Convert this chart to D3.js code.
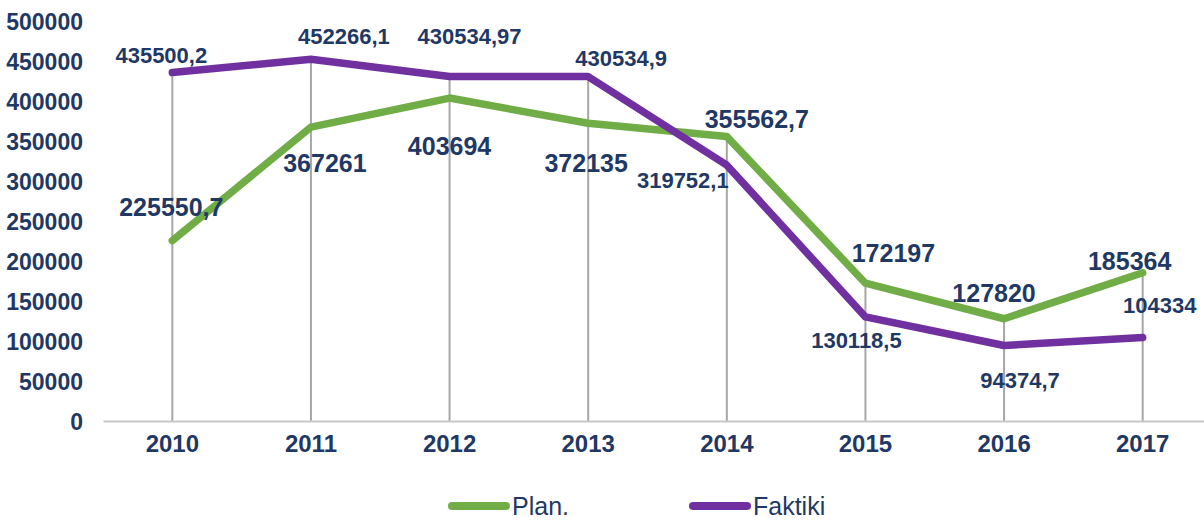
<html>
<head>
<style>
  body { margin: 0; background: #fff; font-family: "Liberation Sans", Arial, sans-serif; }
  svg { display: block; }
</style>
<script src="https://cdn.jsdelivr.net/npm/d3@7"></script>
</head>
<body>
<svg id="chart"></svg>
<script>
let years = ["2010", "2011", "2012", "2013", "2014", "2015", "2016", "2017"];
let planValues = [225550.7, 367261, 403694, 372135, 355562.7, 172197, 127820, 185364];
let faktikiValues = [435500.2, 452266.1, 430534.97, 430534.9, 319752.1, 130118.5, 94374.7, 104334];
let planLabels = ["225550,7", "367261", "403694", "372135", "355562,7", "172197", "127820", "185364"];
let faktikiLabels = ["435500,2", "452266,1", "430534,97", "430534,9", "319752,1", "130118,5", "94374,7", "104334"];
let yTicks = [0, 50000, 100000, 150000, 200000, 250000, 300000, 350000, 400000, 450000, 500000];

// label offsets (dx, dy from the point to the text baseline centre), placed by hand like the source
let planLabelOffsets = [[-1, -25], [14, 45], [0, 57], [-2, 49], [30, -9], [28, -21], [-10, -17], [-13, -3]];
let faktikiLabelOffsets = [[-11, -10], [33, -15], [20, -33], [33, -11], [-44, 23], [-9, 31], [16, 42], [17, -25]];

let width = 1204, height = 521;
let margin = {left: 103, right: -8, top: 21, bottom: 100};
let navy = "#1f3864";
let green = "#70ad47";
let purple = "#7030a0";

let svg = d3.select("#chart").attr("width", width).attr("height", height);

let x = d3.scaleBand()
  .domain(years)
  .range([margin.left, width - margin.right]);

let y = d3.scaleLinear()
  .domain([0, 500000])
  .range([height - margin.bottom, margin.top]);

let cx = d => x(d) + x.bandwidth() / 2;

// drop lines from the higher point of each year
svg.append("g").selectAll("line")
  .data(years)
  .enter().append("line")
  .attr("x1", d => cx(d))
  .attr("x2", d => cx(d))
  .attr("y1", (d, i) => y(Math.max(planValues[i], faktikiValues[i])))
  .attr("y2", y(0))
  .attr("stroke", "#a6a6a6")
  .attr("stroke-width", 2);

// x axis
let axisX = svg.append("g")
  .attr("transform", `translate(0,${y(0)})`)
  .call(d3.axisBottom(x).tickSize(0).tickPadding(14));
axisX.select(".domain").attr("stroke", "#c8c8c8").attr("stroke-width", 2);
axisX.selectAll("text")
  .attr("fill", navy)
  .attr("font-size", 24)
  .attr("font-weight", "bold")
  .attr("font-family", "Liberation Sans, Arial, sans-serif");

// y axis
let axisY = svg.append("g")
  .attr("transform", `translate(${margin.left - 20},0)`)
  .call(d3.axisLeft(y).tickValues(yTicks).tickSize(0).tickPadding(0).tickFormat(d3.format("d")));
axisY.select(".domain").remove();
axisY.selectAll("text")
  .attr("fill", navy)
  .attr("font-size", 23)
  .attr("font-weight", "bold")
  .attr("dy", "0.35em")
  .attr("font-family", "Liberation Sans, Arial, sans-serif");

let line = d3.line()
  .x((d, i) => cx(years[i]))
  .y(d => y(d));

svg.append("path")
  .datum(planValues)
  .attr("d", line)
  .attr("fill", "none")
  .attr("stroke", green)
  .attr("stroke-width", 7.5)
  .attr("stroke-linecap", "round")
  .attr("stroke-linejoin", "round");

svg.append("path")
  .datum(faktikiValues)
  .attr("d", line)
  .attr("fill", "none")
  .attr("stroke", purple)
  .attr("stroke-width", 7.5)
  .attr("stroke-linecap", "round")
  .attr("stroke-linejoin", "round");

function drawLabels(values, labels, offsets, size) {
  svg.append("g").selectAll("text")
    .data(values)
    .enter().append("text")
    .attr("x", (d, i) => cx(years[i]) + offsets[i][0])
    .attr("y", (d, i) => y(d) + offsets[i][1])
    .attr("text-anchor", "middle")
    .attr("fill", navy)
    .attr("font-size", size)
    .attr("font-weight", "bold")
    .text((d, i) => labels[i]);
}
drawLabels(faktikiValues, faktikiLabels, faktikiLabelOffsets, 22);
drawLabels(planValues, planLabels, planLabelOffsets, 25);

// legend
let legend = svg.append("g").attr("transform", "translate(0,506)");
let legendItems = [{name: "Plan.", color: green, x: 452}, {name: "Faktiki", color: purple, x: 693}];
legendItems.forEach(item => {
  legend.append("line")
    .attr("x1", item.x).attr("x2", item.x + 54)
    .attr("stroke", item.color)
    .attr("stroke-width", 8)
    .attr("stroke-linecap", "round");
  legend.append("text")
    .attr("x", item.x + 60)
    .attr("y", 9)
    .attr("fill", navy)
    .attr("font-size", 25)
    .text(item.name);
});
</script>
</body>
</html>
